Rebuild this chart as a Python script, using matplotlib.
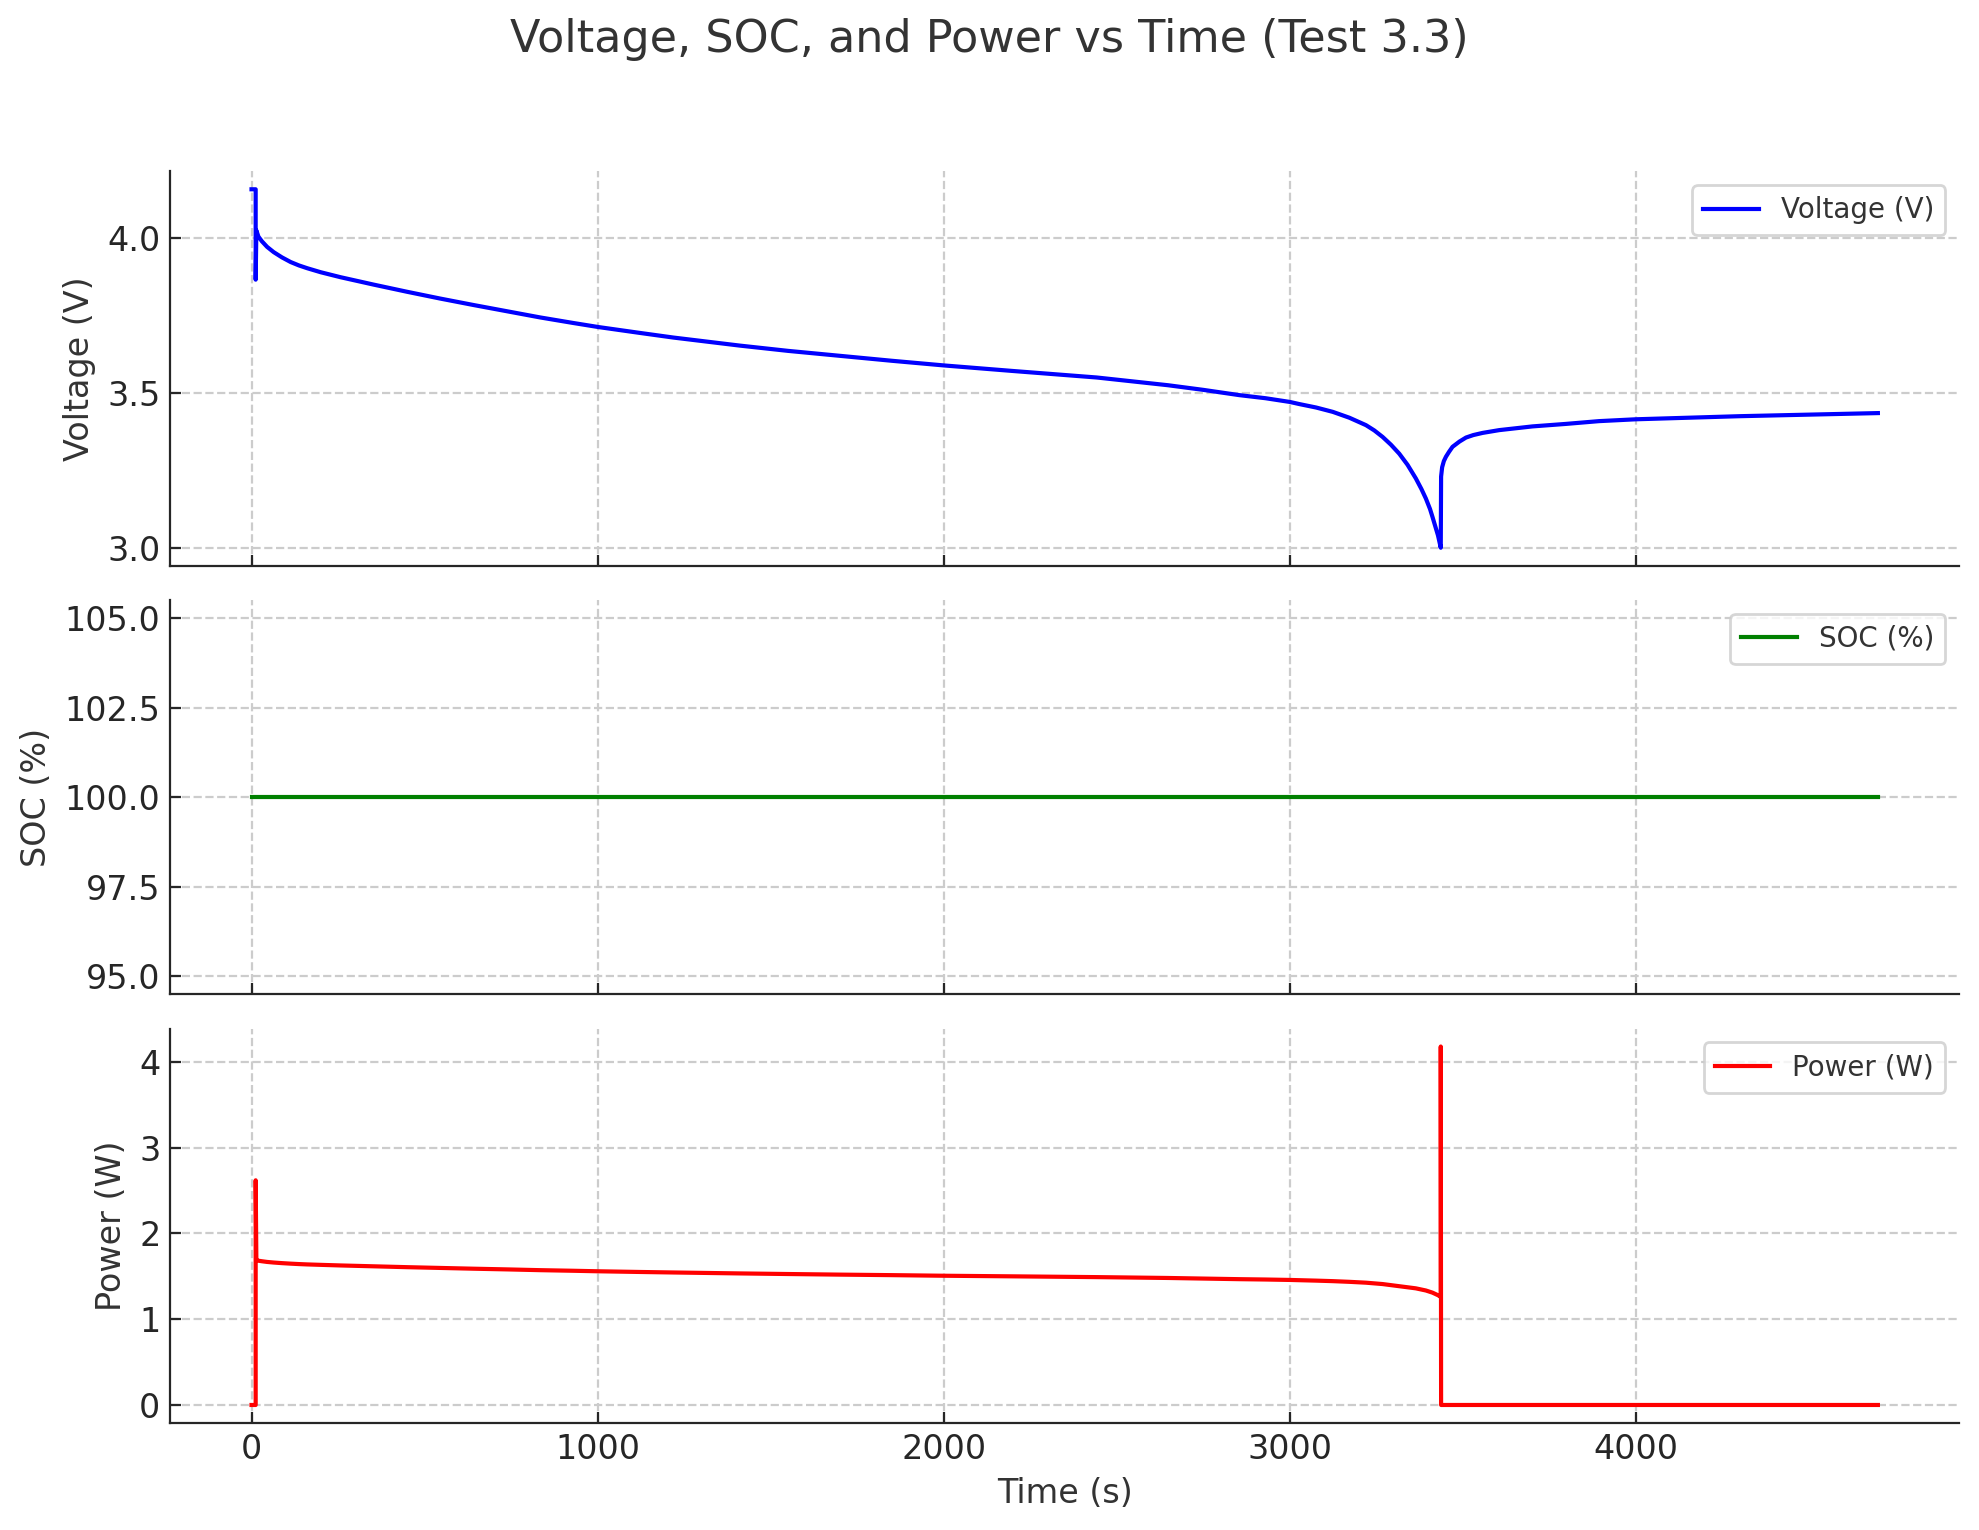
import matplotlib
matplotlib.use('Agg')
import matplotlib.pyplot as plt

# values
voltageTime = [0, 12, 12, 14, 20, 30, 45, 64, 88, 113, 137, 161, 200, 257, 353, 449, 545, 642,
               738, 834, 930, 1002, 1122, 1219, 1411, 1550, 1700, 1850, 2000, 2200, 2442,
               2648, 2750, 2854, 2930, 3000, 3028, 3076, 3124, 3172, 3220, 3244, 3268, 3292,
               3316, 3340, 3364, 3380, 3393, 3405, 3412, 3420, 3428, 3436, 3437, 3440, 3445,
               3451, 3460, 3470, 3490, 3509, 3530, 3557, 3605, 3701, 3797, 3893, 4000, 4300,
               4699]
voltage = [4.158, 4.158, 3.866, 4.025, 4.005, 3.99, 3.972, 3.955, 3.938, 3.923, 3.912, 3.903,
           3.89, 3.874, 3.85, 3.827, 3.805, 3.784, 3.764, 3.744, 3.726, 3.713, 3.694, 3.679,
           3.653, 3.636, 3.62, 3.604, 3.589, 3.571, 3.55, 3.525, 3.51, 3.493, 3.483, 3.471,
           3.464, 3.453, 3.439, 3.42, 3.396, 3.379, 3.358, 3.333, 3.304, 3.268, 3.224, 3.19,
           3.159, 3.125, 3.10, 3.07, 3.04, 3.0, 3.23, 3.26, 3.28, 3.294, 3.31, 3.326, 3.343,
           3.356, 3.364, 3.371, 3.38, 3.392, 3.40, 3.409, 3.415, 3.425, 3.435]

socTime = [0, 4699]
soc = [100, 100]

powerTime = [0, 12, 12, 14, 20, 30, 45, 64, 88, 113, 137, 161, 200, 257, 353, 449, 545, 642,
             738, 834, 930, 1002, 1122, 1219, 1411, 1550, 1700, 1850, 2000, 2200, 2442,
             2648, 2750, 2854, 2930, 3000, 3028, 3076, 3124, 3172, 3220, 3268, 3316, 3364,
             3393, 3412, 3428, 3436, 3436, 3437, 4699]
power = [0, 0, 2.62, 1.69, 1.682, 1.676, 1.668, 1.661, 1.654, 1.648, 1.643, 1.639, 1.634,
         1.627, 1.617, 1.607, 1.598, 1.589, 1.581, 1.572, 1.565, 1.559, 1.551, 1.545, 1.534,
         1.527, 1.52, 1.514, 1.507, 1.5, 1.491, 1.481, 1.474, 1.467, 1.463, 1.458, 1.455,
         1.45, 1.444, 1.436, 1.426, 1.41, 1.385, 1.36, 1.335, 1.31, 1.28, 1.26, 4.18, 0, 0]

textColor = '#333333'
plt.rcParams['text.color'] = textColor
plt.rcParams['axes.labelcolor'] = textColor
plt.rcParams['xtick.color'] = '#262626'
plt.rcParams['ytick.color'] = '#262626'

fig, axes = plt.subplots(3, 1, sharex=True, figsize=(9.895, 7.65), dpi=200)
fig.subplots_adjust(left=0.086, right=0.990, top=0.888, bottom=0.070, hspace=0.087)

panels = [
    (voltageTime, voltage, 'blue', 'Voltage (V)'),
    (socTime, soc, 'green', 'SOC (%)'),
    (powerTime, power, 'red', 'Power (W)'),
]

for ax, (x, y, color, label) in zip(axes, panels):
    ax.plot(x, y, color=color, linewidth=1.5, label=label)
    ax.set_ylabel(label, fontsize=12)
    ax.grid(True, linestyle='--', color='#cccccc', linewidth=0.8)
    ax.legend(loc='upper right', fontsize=10)
    ax.spines['top'].set_visible(False)
    ax.spines['right'].set_visible(False)
    ax.spines['left'].set_color('#262626')
    ax.spines['bottom'].set_color('#262626')
    ax.tick_params(direction='in', labelsize=12, length=4)

axes[1].set_yticks([95.0, 97.5, 100.0, 102.5, 105.0])
axes[2].set_xlabel('Time (s)', fontsize=12)

fig.suptitle('Voltage, SOC, and Power vs Time (Test 3.3)', fontsize=16, y=0.974, va='center')

plt.savefig('out.png', dpi=200)
